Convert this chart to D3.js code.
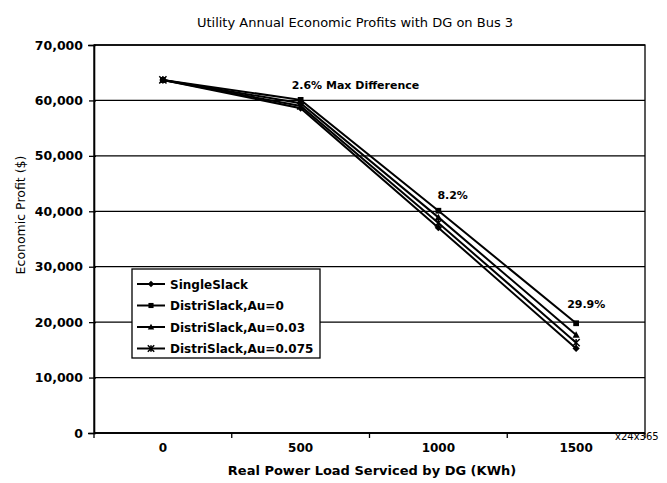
<!DOCTYPE html>
<meta charset="utf-8">
<head>
  <style>
    body { margin: 0; background: #fff; font-family: "DejaVu Sans", sans-serif; }
    text { fill: #000; font-family: "DejaVu Sans", sans-serif; }
    .b { font-weight: bold; }
  </style>
  <script src="https://cdn.jsdelivr.net/npm/d3@7"></script>
</head>
<body>
<div id="chart"></div>
<script>
  // *** data
  var loads = ["0", "500", "1000", "1500"];
  var seriesNames = ["SingleSlack", "DistriSlack,Au=0", "DistriSlack,Au=0.03", "DistriSlack,Au=0.075"];
  var singleSlack = [63700, 58600, 37050, 15250];
  var distriAu0 = [63700, 60100, 40100, 19800];
  var distriAu003 = [63700, 59500, 38900, 17700];
  var distriAu0075 = [63700, 59000, 37900, 16300];
  var yTicks = [0, 10000, 20000, 30000, 40000, 50000, 60000, 70000];
  var notes = [
    { cat: "500", text: "2.6%  Max Difference", dx: -9, value: 62100 },
    { cat: "1000", text: "8.2%", dx: -1, value: 42200 },
    { cat: "1500", text: "29.9%", dx: -9, value: 22500 }
  ];

  var series = [singleSlack, distriAu0, distriAu003, distriAu0075];
  var markers = ["diamond", "square", "triangle", "star"];

  var W = 667, H = 483;
  var margin = { top: 45, right: 22, bottom: 50, left: 94 };
  var width = W - margin.left - margin.right,
      height = H - margin.top - margin.bottom;

  var svg = d3.select("#chart").append("svg")
    .attr("width", W)
    .attr("height", H);

  var g = svg.append("g")
    .attr("transform", "translate(" + margin.left + "," + margin.top + ")");

  var x = d3.scaleBand().domain(loads).range([0, width]);
  var y = d3.scaleLinear().domain([0, 70000]).range([height, 0]);

  // gridlines
  g.selectAll(".grid")
    .data(yTicks)
    .enter().append("line")
    .attr("x1", 0).attr("x2", width)
    .attr("y1", function(d) { return y(d); })
    .attr("y2", function(d) { return y(d); })
    .attr("stroke", "#000")
    .attr("stroke-width", 1.3);

  // frame
  g.append("rect")
    .attr("width", width).attr("height", height)
    .attr("fill", "none").attr("stroke", "#000").attr("stroke-width", 1.3);

  // y axis
  var yAxis = d3.axisLeft(y).tickValues(yTicks).tickSize(6)
    .tickFormat(d3.format(","));
  var ya = g.append("g").call(yAxis);
  ya.select(".domain").attr("stroke-width", 1.6);
  ya.selectAll(".tick line").attr("x2", 2).attr("x1", -5).attr("stroke-width", 1.3);
  ya.selectAll("text").attr("font-size", 12.5).attr("x", -11)
    .attr("font-family", "DejaVu Sans, sans-serif").attr("class", "b");

  // x axis (category, ticks at band edges)
  var edges = loads.map(function(d) { return x(d); }).concat([width]);
  var xa = g.append("g").attr("transform", "translate(0," + height + ")");
  xa.append("line").attr("x1", 0).attr("x2", width).attr("stroke", "#000").attr("stroke-width", 1.6);
  xa.selectAll(".xt").data(edges).enter().append("line")
    .attr("x1", function(d) { return d; }).attr("x2", function(d) { return d; })
    .attr("y1", 0).attr("y2", 5).attr("stroke", "#000").attr("stroke-width", 1.3);
  xa.selectAll(".xl").data(loads).enter().append("text")
    .attr("class", "b")
    .attr("x", function(d) { return x(d) + x.bandwidth() / 2; })
    .attr("y", 19)
    .attr("text-anchor", "middle")
    .attr("font-size", 12)
    .text(function(d) { return d; });

  svg.append("text")
    .attr("x", 615).attr("y", 440)
    .attr("font-size", 10)
    .text("x24x365");

  // titles
  svg.append("text")
    .attr("x", 355).attr("y", 27)
    .attr("text-anchor", "middle")
    .attr("font-size", 13)
    .text("Utility Annual Economic Profits with DG on Bus 3");

  svg.append("text")
    .attr("class", "b")
    .attr("x", 372).attr("y", 475)
    .attr("text-anchor", "middle")
    .attr("font-size", 13)
    .text("Real Power Load Serviced by DG (KWh)");

  svg.append("text")
    .attr("transform", "translate(25,215) rotate(-90)")
    .attr("text-anchor", "middle")
    .attr("font-size", 12.5)
    .text("Economic Profit ($)");

  // lines
  var line = d3.line()
    .x(function(d, i) { return x(loads[i]) + x.bandwidth() / 2; })
    .y(function(d) { return y(d); });

  function drawMarker(sel, type, s) {
    if (type === "diamond") {
      sel.append("path").attr("d", "M0," + (-s) + "L" + s + ",0L0," + s + "L" + (-s) + ",0Z").attr("fill", "#000");
    } else if (type === "square") {
      sel.append("rect").attr("x", -s * 0.8).attr("y", -s * 0.8).attr("width", s * 1.6).attr("height", s * 1.6).attr("fill", "#000");
    } else if (type === "triangle") {
      sel.append("path").attr("d", "M0," + (-s) + "L" + s + "," + (s * 0.8) + "L" + (-s) + "," + (s * 0.8) + "Z").attr("fill", "#000");
    } else {
      sel.append("path")
        .attr("d", "M" + (-s) + "," + (-s) + "L" + s + "," + s + "M" + (-s) + "," + s + "L" + s + "," + (-s) + "M0," + (-s) + "L0," + s)
        .attr("stroke", "#000").attr("stroke-width", 1.5).attr("fill", "none");
    }
  }

  series.forEach(function(vals, k) {
    g.append("path")
      .datum(vals)
      .attr("d", line)
      .attr("fill", "none")
      .attr("stroke", "#000")
      .attr("stroke-width", 2);
    vals.forEach(function(v, i) {
      var m = g.append("g")
        .attr("transform", "translate(" + (x(loads[i]) + x.bandwidth() / 2) + "," + y(v) + ")");
      drawMarker(m, markers[k], 3.6);
    });
  });

  // annotations
  g.selectAll(".note").data(notes).enter().append("text")
    .attr("class", "b")
    .attr("x", function(d) { return x(d.cat) + x.bandwidth() / 2 + d.dx; })
    .attr("y", function(d) { return y(d.value); })
    .attr("font-size", 11)
    .text(function(d) { return d.text; });

  // legend
  var lg = svg.append("g").attr("transform", "translate(132,269)");
  lg.append("rect").attr("width", 188).attr("height", 89)
    .attr("fill", "#fff").attr("stroke", "#000").attr("stroke-width", 1.3);
  seriesNames.forEach(function(name, k) {
    var yy = 15 + k * 21.5;
    lg.append("line").attr("x1", 5).attr("x2", 33).attr("y1", yy).attr("y2", yy)
      .attr("stroke", "#000").attr("stroke-width", 2);
    drawMarker(lg.append("g").attr("transform", "translate(19," + yy + ")"), markers[k], 3.2);
    lg.append("text").attr("class", "b").attr("x", 38).attr("y", yy + 4.5)
      .attr("font-size", 12)
      .text(name);
  });
</script>
</body>
